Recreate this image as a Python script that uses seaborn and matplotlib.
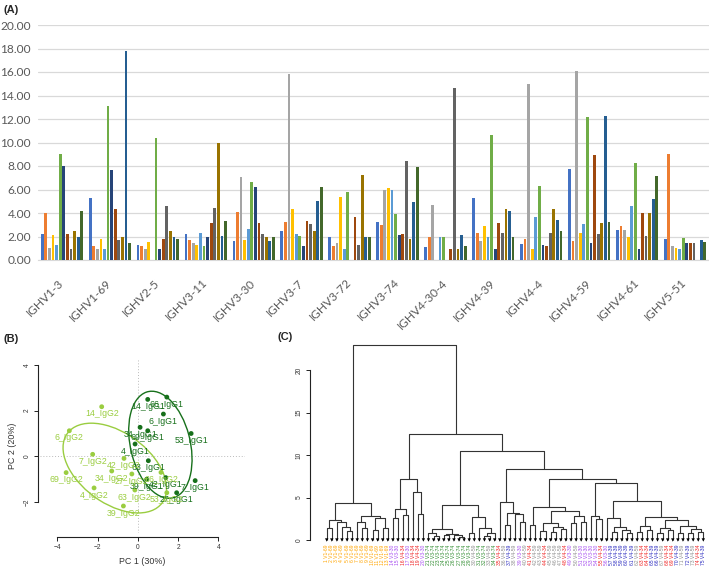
import numpy as np
import pandas as pd
import matplotlib
matplotlib.use("Agg")
import matplotlib.pyplot as plt
import seaborn as sns
from matplotlib.patches import Ellipse

sns.set_style("white")
plt.rcParams["font.family"] = ["Liberation Sans", "DejaVu Sans"]

# ---------------- Panel A data ----------------
genes = ["IGHV1-3", "IGHV1-69", "IGHV2-5", "IGHV3-11", "IGHV3-30", "IGHV3-7", "IGHV3-72",
         "IGHV3-74", "IGHV4-30-4", "IGHV4-39", "IGHV4-4", "IGHV4-59", "IGHV4-61", "IGHV5-51"]
series_names = ["S1", "S2", "S3", "S4", "S5", "S6", "S7", "S8", "S9", "S10", "S11", "S12"]
s1 = [2.2, 5.3, 1.28, 2.19, 1.62, 2.5, 1.93, 3.23, 1.13, 5.3, 1.39, 7.74, 2.52, 1.82]
s2 = [4.0, 1.2, 1.23, 1.7, 4.05, 3.26, 1.19, 2.95, 1.96, 2.27, 1.79, 1.62, 2.89, 9.0]
s3 = [1.0, 0.96, 0.96, 1.42, 7.09, 15.83, 1.42, 5.96, 4.71, 1.65, 14.98, 16.1, 2.55, 1.19]
s4 = [2.15, 1.76, 1.5, 1.28, 1.7, 4.37, 5.39, 6.1, 0, 2.92, 0.96, 2.27, 1.96, 1.05]
s5 = [1.3, 0.96, 0, 2.33, 2.6, 2.24, 0.94, 6.0, 1.93, 1.96, 3.66, 3.03, 4.57, 0.96]
s6 = [9.0, 13.1, 10.35, 1.19, 6.67, 2.04, 5.79, 3.94, 1.93, 10.67, 6.3, 12.17, 8.23, 1.9]
s7 = [8.0, 7.66, 0.94, 1.93, 6.24, 1.19, 0, 2.1, 0, 0.96, 1.28, 1.45, 0.96, 1.45]
s8 = [2.2, 4.3, 1.8, 3.12, 3.12, 3.32, 3.63, 2.18, 0.96, 3.18, 1.19, 8.9, 3.97, 1.45]
s9 = [0.95, 1.7, 4.57, 4.45, 2.24, 3.04, 1.28, 8.43, 14.67, 2.27, 2.3, 2.21, 2.04, 1.45]
s10 = [2.45, 1.93, 2.45, 9.98, 1.96, 2.47, 7.23, 1.82, 0.96, 4.31, 4.37, 3.12, 3.97, 0]
s11 = [1.96, 17.8, 1.93, 2.04, 1.62, 5.05, 1.93, 4.96, 2.16, 4.17, 3.4, 12.26, 5.19, 1.7]
s12 = [4.2, 1.47, 1.8, 3.29, 1.93, 6.18, 1.93, 7.89, 1.19, 1.93, 2.47, 3.2, 7.15, 1.56]
bar_colors = ["#4472C4", "#ED7D31", "#A5A5A5", "#FFC000", "#5B9BD5", "#70AD47",
              "#264478", "#9E480E", "#636363", "#997300", "#255E91", "#43682B"]
y_ticks_a = [0, 2, 4, 6, 8, 10, 12, 14, 16, 18, 20]

# ---------------- Panel B data ----------------
g1_labels = ["14_IgG1", "66_IgG1", "6_IgG1", "53_IgG1", "34_IgG1", "69_IgG1",
             "4_IgG1", "63_IgG1", "39_IgG1", "42_IgG1", "7_IgG1", "27_IgG1"]
g1_pc1 = [0.49, 1.44, 1.27, 2.65, 0.11, 0.49, -0.14, 0.52, 0.44, 1.39, 2.85, 1.93]
g1_pc2 = [2.49, 2.59, 1.85, 1.00, 1.27, 1.12, 0.54, -0.19, -1.00, -0.93, -1.06, -1.59]
g2_labels = ["14_IgG2", "6_IgG2", "7_IgG2", "42_IgG2", "34_IgG2", "69_IgG2",
             "27_IgG2", "4_IgG2", "63_IgG2", "39_IgG2", "66_IgG2", "53_IgG2"]
g2_pc1 = [-1.80, -3.41, -2.25, -0.69, -1.30, -3.57, -0.30, -2.18, -0.15, -0.72, 1.15, 1.44]
g2_pc2 = [2.17, 1.12, 0.09, -0.09, -0.64, -0.71, -0.77, -1.38, -1.47, -2.17, -0.70, -1.59]
iso_colors = {"IgG1": "#17701b", "IgG2": "#9acd40"}

# ---------------- Panel C data (merge tree: (height, left, right); L = leaf) ----------------
L = None
clu_A = (4.3, (2.35, (1.45, L, L), (2.15, L, (1.57, L, (1.1, L, L)))),
              (2.86, (2.1, L, (1.37, L, L)), (2.55, (1.2, L, L), (1.45, L, L))))
clu_P = (7.2, (3.7, (2.55, L, L), (3.0, L, L)), (5.6, L, (3.06, L, L)))
clu_G = (4.1, (1.25, (0.8, L, (0.5, L, L)), (0.75, (0.55, L, L), (0.6, L, (0.3, L, L)))),
              (2.65, (0.8, L, L), (1.45, L, (0.8, (0.5, L, L), L))))
clu_D1 = (4.5, L, (3.14, (1.76, L, L), (3.05, L, (2.15, L, L))))
clu_D2a = (3.9, (1.76, L, L), (3.45, (1.95, (1.05, L, L), (1.57, (0.9, L, L), (1.25, L, L))),
                               (2.8, (1.95, L, L), (2.15, L, L))))
clu_D2b1 = (2.85, L, (2.45, L, L))
clu_D2b2 = (4.6, (2.55, L, (1.57, (1.0, L, L), (1.2, L, (0.8, L, L)))),
                 (2.65, (1.65, (1.0, L, L), (1.2, L, L)),
                        (2.3, (1.45, (0.8, L, L), (1.2, L, L)),
                              (1.6, (0.85, L, L), (1.3, (0.8, L, L), (1.0, L, L))))))
tree = (22.9, clu_A, (12.5, clu_P, (10.5, clu_G, (8.4, clu_D1, (7.15, clu_D2a, (6.65, clu_D2b1, clu_D2b2))))))
leaf_groups = (["o"] * 13 + ["p", "p", "r", "p", "r", "r", "p"]
               + ["g"] * 9 + ["k", "g", "g", "k", "g"]
               + ["r", "k", "b", "k", "p", "k"]
               + ["r", "k", "k", "r", "k", "k", "k", "r", "p", "k", "p", "p"]
               + ["p", "p", "r"]
               + ["p", "b", "b", "b", "b", "b"]
               + ["k", "r", "r", "b", "b", "k", "r", "r", "b", "k", "b", "k", "r", "b"])
leaf_palette = {"o": "#FFA500", "p": "#A64DF0", "r": "#F02020", "g": "#2E8B2E", "k": "#8C8C8C", "b": "#2B2BC0"}
leaf_codes = {"o": "V1-69", "p": "V3-30", "r": "V4-34", "g": "V3-74", "k": "V4-59", "b": "V4-39"}
y_ticks_c = [0, 5, 10, 15, 20]

# ---------------- Figure ----------------
W, H = 709, 572
fig = plt.figure(figsize=(W / 100, H / 100), dpi=100)


def box(l, t, r, b):
    return [l / W, 1 - b / H, (r - l) / W, (b - t) / H]


# ===== Panel A =====
ax_a = fig.add_axes(box(38, 25, 709, 260))
rows = []
for name, vals in zip(series_names, [s1, s2, s3, s4, s5, s6, s7, s8, s9, s10, s11, s12]):
    for g, v in zip(genes, vals):
        rows.append({"gene": g, "series": name, "value": v})
df_a = pd.DataFrame(rows)
sns.barplot(data=df_a, x="gene", y="value", hue="series", order=genes, hue_order=series_names,
            palette=bar_colors, width=0.9, gap=0.22, saturation=1, errorbar=None,
            legend=False, ax=ax_a, zorder=3, linewidth=0)
for p in ax_a.patches:
    p.set_antialiased(False)
ax_a.set_ylim(0, 20)
ax_a.set_xlim(-0.5, 13.5)
ax_a.set_yticks(y_ticks_a)
ax_a.set_yticklabels([f"{v:.2f}" for v in y_ticks_a], fontfamily="Lato", fontsize=8.6, color="#595959")
ax_a.yaxis.grid(True, color="#D9D9D9", lw=0.9)
ax_a.set_axisbelow(True)
for sp in ["top", "right", "left"]:
    ax_a.spines[sp].set_visible(False)
ax_a.spines["bottom"].set_color("#D9D9D9")
ax_a.tick_params(axis="y", length=0, pad=5)
ax_a.tick_params(axis="x", length=0, pad=15)
ax_a.set_xticks(range(len(genes)))
ax_a.set_xticklabels(genes, rotation=45, ha="right", va="center", rotation_mode="anchor",
                     fontfamily="Lato", fontsize=8.6, color="#595959")
ax_a.set_xlabel("")
ax_a.set_ylabel("")
fig.text(3 / W, 1 - 10 / H, "(A)", fontsize=8, fontweight="bold", va="center", ha="left")

# ===== Panel B =====
ax_b = fig.add_axes(box(40, 358, 245, 533))
df_b = pd.DataFrame({
    "pc1": g1_pc1 + g2_pc1,
    "pc2": g1_pc2 + g2_pc2,
    "iso": ["IgG1"] * len(g1_pc1) + ["IgG2"] * len(g2_pc1),
    "label": g1_labels + g2_labels,
})
ax_b.set_xlim(-4.87, 5.33)
ax_b.set_ylim(-3.35, 4.30)
ax_b.axhline(0, color="#BBBBBB", ls=(0, (1, 2)), lw=0.7, zorder=0)
ax_b.axvline(0, color="#BBBBBB", ls=(0, (1, 2)), lw=0.7, zorder=0)
for iso in ["IgG2", "IgG1"]:
    sub = df_b[df_b["iso"] == iso]
    pts = sub[["pc1", "pc2"]].to_numpy()
    mu = pts.mean(axis=0)
    cov = np.cov(pts.T)
    evals, evecs = np.linalg.eigh(cov)
    order = evals.argsort()[::-1]
    evals, evecs = evals[order], evecs[:, order]
    angle = np.degrees(np.arctan2(evecs[1, 0], evecs[0, 0]))
    k = 1.62
    ax_b.add_patch(Ellipse(mu, 2 * k * np.sqrt(evals[0]), 2 * k * np.sqrt(evals[1]), angle=angle,
                           fill=False, edgecolor=iso_colors[iso], lw=1.0, zorder=2))
sns.scatterplot(data=df_b, x="pc1", y="pc2", hue="iso", palette=iso_colors, s=12,
                edgecolor="none", legend=False, ax=ax_b, zorder=3)
for _, r in df_b.iterrows():
    ax_b.annotate(r["label"], (r["pc1"], r["pc2"]), xytext=(0, -5.2), textcoords="offset points",
                  ha="center", va="center", fontsize=6.3, color=iso_colors[r["iso"]], zorder=4)
for sp in ["top", "right"]:
    ax_b.spines[sp].set_visible(False)
ax_b.spines["bottom"].set_position(("outward", 2.7))
ax_b.spines["left"].set_position(("outward", 1.2))
ax_b.spines["bottom"].set_bounds(-4, 4)
ax_b.spines["left"].set_bounds(-2, 4)
for sp in ["bottom", "left"]:
    ax_b.spines[sp].set_color("#222222")
    ax_b.spines[sp].set_linewidth(0.8)
ax_b.set_xticks([-4, -2, 0, 2, 4])
ax_b.set_yticks([-2, 0, 2, 4])
ax_b.tick_params(axis="both", direction="out", length=3, width=0.7, color="#222222",
                 labelsize=4.8, labelcolor="#333333", pad=2.5, bottom=True, left=True)
for t in ax_b.get_yticklabels():
    t.set_rotation(90)
    t.set_va("center")
ax_b.set_xlabel("PC 1 (30%)", fontsize=6.4, color="#333333", labelpad=4)
ax_b.set_ylabel("PC 2 (20%)", fontsize=6.4, color="#333333", labelpad=5)
fig.text(3 / W, 1 - 339 / H, "(B)", fontsize=8, fontweight="bold", va="center", ha="left")

# ===== Panel C =====
ax_c = fig.add_axes(box(318, 344.5, 707, 540))
segments = []
leaf_x = []


def layout(node):
    if node is None:
        x = len(leaf_x)
        leaf_x.append(x)
        return x, 0.0
    h, left, right = node
    xl, hl = layout(left)
    xr, hr = layout(right)
    segments.append(([xl, xl, xr, xr], [hl, h, h, hr]))
    return (xl + xr) / 2.0, h


layout(tree)
n = len(leaf_x)
for xs, ys in segments:
    ax_c.plot(xs, ys, color="#333333", lw=0.8, solid_capstyle="butt", clip_on=False)
sns.scatterplot(x=leaf_x, y=[0.0] * n, marker="v", s=6, color="black", edgecolor="none",
                ax=ax_c, clip_on=False, zorder=3)
pitch = (703.3 - 326.7) / (n - 1)
ax_c.set_xlim(-(326.7 - 318) / pitch, (n - 1) + (707 - 703.3) / pitch)
ax_c.set_ylim(0, 23)
for i, g in enumerate(leaf_groups[:n]):
    lab = f"{i + 1} {leaf_codes[g]}"
    ax_c.text(leaf_x[i], -0.55, lab, rotation=90, ha="center", va="top", fontsize=3.6,
              color=leaf_palette[g], clip_on=False)
for sp in ["top", "right", "bottom"]:
    ax_c.spines[sp].set_visible(False)
ax_c.spines["left"].set_position(("outward", 5.8))
ax_c.spines["left"].set_bounds(0, 20)
ax_c.spines["left"].set_color("#222222")
ax_c.spines["left"].set_linewidth(0.8)
ax_c.set_xticks([])
ax_c.set_yticks(y_ticks_c)
ax_c.tick_params(axis="y", direction="out", length=3, width=0.7, color="#222222",
                 labelsize=4.8, labelcolor="#333333", pad=2.5, left=True)
for t in ax_c.get_yticklabels():
    t.set_rotation(90)
    t.set_va("center")
fig.text(277 / W, 1 - 337 / H, "(C)", fontsize=8, fontweight="bold", va="center", ha="left")

fig.savefig("out.png", dpi=100)
